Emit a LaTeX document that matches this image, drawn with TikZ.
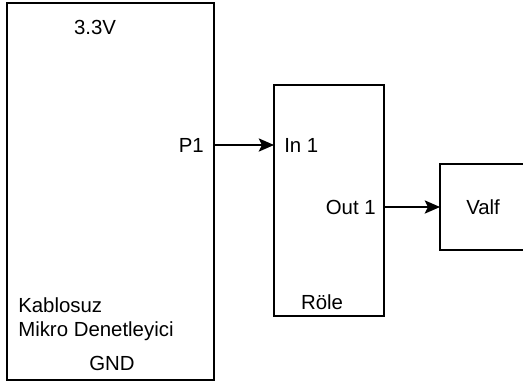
\documentclass[tikz,border=0pt]{standalone}
\usepackage{fontspec}
\setmainfont{Liberation Sans}
\usetikzlibrary{arrows.meta}

\begin{document}
\begin{tikzpicture}[x=0.75pt,y=-0.75pt,
  blk/.style={draw,line width=0.9pt,inner sep=0pt,outer sep=0pt,anchor=north west},
  txt/.style={inner sep=0pt,font=\fontsize{15.3}{18}\selectfont},
  >={Stealth[length=11.5pt,width=10pt,inset=2.5pt]}]
\useasboundingbox (0,0) rectangle (523,383);
% boxes
\node[blk,minimum width=155.25pt,minimum height=282.75pt] (mcu) at (7,3) {};
\node[blk,minimum width=82.5pt,minimum height=173.25pt] (role) at (274,85) {};
\node[blk,minimum width=82.5pt,minimum height=64.5pt] (valf) at (440,164) {};
% labels
\node[txt] (vcc) at (95,27) {3.3V};
\node[txt,anchor=east] (pin) at (204,145) {P1};
\node[txt,anchor=west] (inp) at (284,145) {In 1};
\node[txt,anchor=east] (outp) at (376,207) {Out 1};
\node[txt,anchor=west] (vlbl) at (466,207) {Valf};
\node[txt] (rlbl) at (322,302) {Röle};
\node[txt,anchor=north west,align=left] (mlbl) at (18,297) {Kablosuz\\Mikro Denetleyici};
\node[txt] (gnd) at (112,363) {GND};
% connections
\coordinate (pend) at (214,190);
\draw[line width=1.1pt] (mcu.east |- pin) -- (pend);
\draw[->,line width=0.9pt] (mcu.east |- pin)--(role.west |- pin);
\draw[->,line width=0.9pt] (role.east |- outp)--(valf.west |- outp);
\end{tikzpicture}
\end{document}
